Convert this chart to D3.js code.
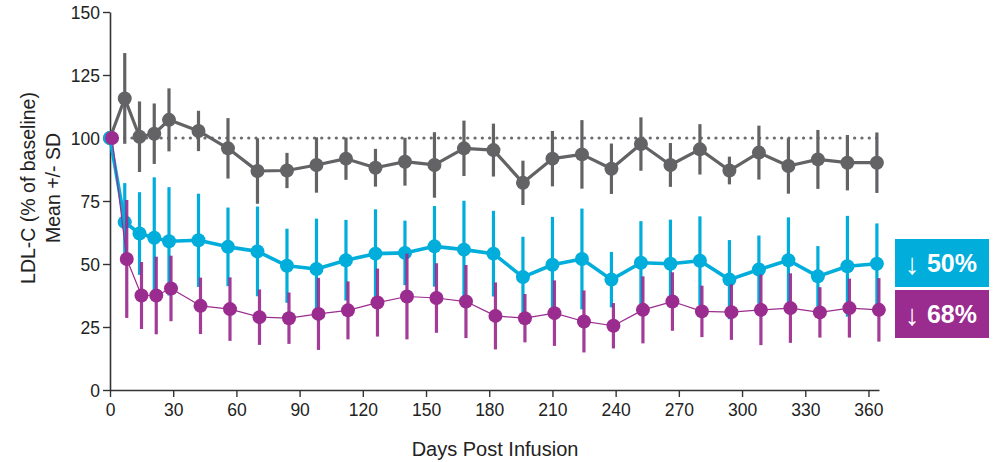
<!DOCTYPE html>
<html><head><meta charset="utf-8">
<script src="https://cdn.jsdelivr.net/npm/d3@7"></script>
<style>
html,body{margin:0;padding:0;background:#fff;}
text{font-family:"Liberation Sans",Arial,Helvetica,sans-serif;}
</style></head>
<body><svg id="chart" width="995" height="462"></svg>
<script>
const days = [0,7,14,21,28,42,56,70,84,98,112,126,140,154,168,182,196,210,224,238,252,266,280,294,308,322,336,350,364];
const placeboMean = [100,115.7,100.5,101.7,107.2,102.8,95.9,86.9,87.1,89.3,91.8,88.2,90.6,89.3,95.9,95.2,82.2,91.8,93.5,87.8,97.6,89.3,95.5,87.1,94.2,88.9,91.5,90.2,90.2];
const placeboSD   = [0,18,14,12,12.5,8,12,13,7,11,8.4,7.5,9.5,13,11,10.5,8.8,11,13.6,10,10.6,8.7,10,5.5,10.7,11,11.7,11,12];
const lowMean  = [100,66.6,62.1,60.4,59,59.4,56.8,55,49.3,48,51.5,54.1,54.4,57,55.7,54.1,44.8,49.7,52,43.8,50.5,50.1,51.3,43.8,47.8,51.5,45.1,49.1,50.1];
const lowSD    = [0,15.5,16.4,24,21.5,18.5,15.6,17.8,14.7,20,16,17.6,12.8,16,19.4,17,16,19,20,11,16.5,17.5,17.6,15.7,13.5,17,12,20,16];
const highMean = [100,52,37.5,37.5,40.3,33.4,32.1,28.9,28.5,30.2,31.6,34.7,37.1,36.5,35.1,29.4,28.5,30.5,27.2,25.5,31.8,35.1,31.2,30.9,31.8,32.5,30.8,32.5,31.8];
const highSD   = [0,23.4,13.3,15.4,13,11.2,12.6,11,10.2,14.3,11.5,13.5,17,13.8,14.5,13.3,9.6,13,12.3,9,13.3,11.6,10.2,11,14,13.8,10,11.7,12.6];
const xTicks = [0,30,60,90,120,150,180,210,240,270,300,330,360];
const yTicks = [0,25,50,75,100,125,150];
const baseline = 100;
const arrows = ["↓","↓"];
const labels = ["50%","68%"];

const svg = d3.select("#chart");
const x = d3.scaleLinear().domain([0,365]).range([110,879]);
const y = d3.scaleLinear().domain([0,150]).range([390,12]);

// axes
const gx = svg.append("g").attr("transform","translate(0,390)")
  .call(d3.axisBottom(x).tickValues(xTicks).tickSize(7).tickPadding(7).tickSizeOuter(0));
const gy = svg.append("g").attr("transform","translate(110,0)")
  .call(d3.axisLeft(y).tickValues(yTicks).tickSize(7).tickPadding(3).tickSizeOuter(0));
[gx,gy].forEach(g=>{
  g.select(".domain").attr("stroke","#333").attr("stroke-width",1.6);
  g.selectAll(".tick line").attr("stroke","#333").attr("stroke-width",1.4);
  g.selectAll(".tick text").attr("fill","#222").style("font-size","17.5px");
});
gy.selectAll(".tick text").attr("dy","0.36em");

svg.append("text").attr("x",495).attr("y",456).attr("text-anchor","middle")
  .style("font-size","20px").attr("fill","#222").text("Days Post Infusion");
const yl = svg.append("text").attr("transform","translate(0,188) rotate(-90)")
  .attr("text-anchor","middle").style("font-size","19.5px").attr("fill","#222");
yl.append("tspan").attr("x",0).attr("y",35).text("LDL-C (% of baseline)");
yl.append("tspan").attr("x",0).attr("y",60).text("Mean +/- SD");

// baseline dotted
svg.append("line").attr("x1",x(0)).attr("x2",x(364)).attr("y1",y(baseline)).attr("y2",y(baseline))
  .attr("stroke","#6d6d70").attr("stroke-width",3.2).attr("stroke-linecap","round")
  .attr("stroke-dasharray","0.1 7.2");

function series(mean, sd, color, lineW, r, dx, barOpacity){
  const g = svg.append("g").attr("transform",`translate(${dx},0)`);
  const data = days.map((d,i)=>({d, m:mean[i], s:sd[i]}));
  g.selectAll("line.err").data(data.filter(p=>p.s>0)).join("line")
    .attr("x1",p=>x(p.d)).attr("x2",p=>x(p.d))
    .attr("y1",p=>y(p.m+p.s)).attr("y2",p=>y(p.m-p.s))
    .attr("stroke",color).attr("stroke-width",3.2).attr("opacity",barOpacity);
  g.append("path").datum(data)
    .attr("d",d3.line().x(p=>x(p.d)).y(p=>y(p.m)))
    .attr("fill","none").attr("stroke",color).attr("stroke-width",lineW).attr("stroke-linejoin","round");
  g.selectAll("circle").data(data).join("circle")
    .attr("cx",p=>x(p.d)).attr("cy",p=>y(p.m)).attr("r",r).attr("fill",color);
}
series(placeboMean, placeboSD, "#636366", 3.2, 7, 0, 1);
series(lowMean, lowSD, "#00addb", 3.6, 7, 0, 1);
series(highMean, highSD, "#9b2c8f", 1.2, 7, 2, 0.92);

// annotation boxes
const boxes = [{a:arrows[0], t:labels[0], c:"#00addb", y0:239},{a:arrows[1], t:labels[1], c:"#9b2c8f", y0:290}];
boxes.forEach(b=>{
  svg.append("rect").attr("x",895).attr("y",b.y0).attr("width",94).attr("height",48).attr("fill",b.c);
  svg.append("text").attr("x",912).attr("y",b.y0+35).attr("text-anchor","middle")
    .attr("fill","#fff").style("font-size","29px").style("font-weight","normal").text(b.a);
  svg.append("text").attr("x",952).attr("y",b.y0+33).attr("text-anchor","middle")
    .attr("fill","#fff").style("font-size","25px").style("font-weight","bold").text(b.t);
});
</script></body></html>
